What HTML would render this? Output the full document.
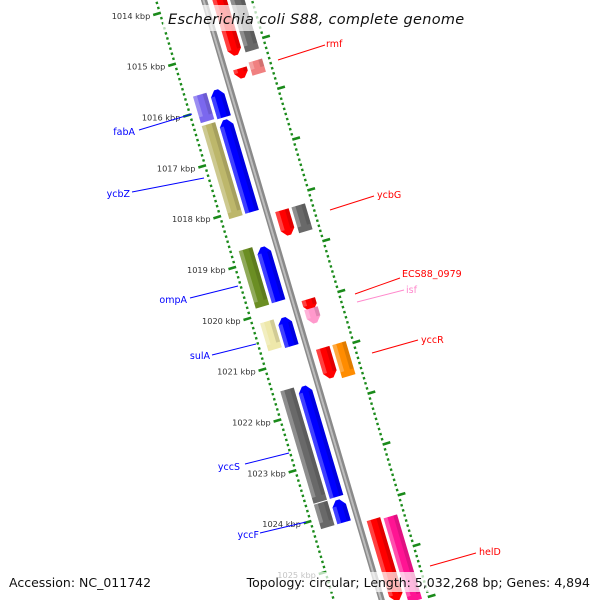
<!DOCTYPE html>
<html><head><meta charset="utf-8"><style>
html,body{margin:0;padding:0;background:#fff;overflow:hidden;width:600px;height:600px;}
svg{display:block;font-family:"DejaVu Sans","Liberation Sans",sans-serif;overflow:hidden;}
</style></head><body>
<svg id="chart" width="600" height="600" viewBox="0 0 600 600" xmlns="http://www.w3.org/2000/svg">
<defs><clipPath id="frame"><rect x="0" y="0" width="600" height="600"/></clipPath></defs>
<g clip-path="url(#frame)">
<g id="strip" transform="translate(204,0) rotate(-16.5)"></g>
<g id="labels"></g>
</g>
<rect x="163" y="5" width="274" height="26" fill="#fff" opacity="0.7"/>
<text x="168" y="24" font-size="14.5" font-style="italic" fill="#111" letter-spacing="0.3">Escherichia coli S88, complete genome</text>
<rect x="6" y="572" width="142" height="20" fill="#fff" opacity="0.7"/>
<text x="9" y="587" font-size="12.5" fill="#111">Accession: NC_011742</text>
<rect x="256" y="572" width="338" height="20" fill="#fff" opacity="0.7"/>
<text x="590" y="587" font-size="12.5" fill="#111" text-anchor="end">Topology: circular; Length: 5,032,268 bp; Genes: 4,894</text>
</svg>
<script>
// ---- data ----
const featStart = [1013.0, 1015.43, 1013.0, 1015.37, 1015.69, 1016.28, 1018.78, 1020.17, 1021.52, 1023.76, 1015.69, 1016.27, 1018.73, 1020.15, 1021.49, 1023.72, 1018.22, 1018.22, 1019.97, 1020.15, 1020.93, 1020.93, 1024.3, 1024.34];
const featEnd   = [1015.17, 1015.62, 1015.17, 1015.63, 1016.23, 1018.09, 1019.85, 1020.73, 1023.7, 1024.2, 1016.21, 1018.1, 1019.86, 1020.7, 1023.7, 1024.2, 1018.71, 1018.73, 1020.2, 1020.44, 1021.52, 1021.58, 1025.9, 1026.0];
const featSlot  = ["ri","ri","ro","ro","li","li","li","li","li","li","lo","lo","lo","lo","lo","lo","ri","ro","ri","ri","ri","ro","ri","ro"];
const featColor = ["#ff0000","#ff0000","#696969","#f08080","#0000ff","#0000ff","#0000ff","#0000ff","#0000ff","#0000ff","#7b68ee","#bdb76b","#6b8e23","#eee8aa","#696969","#696969","#ff0000","#696969","#ff0000","#ff99cc","#ff0000","#ff8c00","#ff0000","#ff1493"];
const featArrow = [1,1,0,0,-1,-1,-1,-1,-1,-1,0,0,0,0,0,0,1,0,1,1,1,0,1,0];
const tickKbp = [1013,1014,1015,1016,1017,1018,1019,1020,1021,1022,1023,1024,1025,1026];
const tickLabels = ["1013 kbp","1014 kbp","1015 kbp","1016 kbp","1017 kbp","1018 kbp","1019 kbp","1020 kbp","1021 kbp","1022 kbp","1023 kbp","1024 kbp","1025 kbp","1026 kbp"];
const geneNames = ["rmf","fabA","ycbZ","ycbG","ECS88_0979","isf","ompA","yccR","sulA","yccS","yccF","helD"];
const geneColor = ["#ff0000","#0000ff","#0000ff","#ff0000","#ff0000","#ff88cc","#0000ff","#ff0000","#0000ff","#0000ff","#0000ff","#ff0000"];
// ---- layout ----
const NS="http://www.w3.org/2000/svg";
const strip=document.getElementById('strip');
const labels=document.getElementById('labels');
const K0=1014, PX=53.0, ANG=16.5*Math.PI/180, OX=204;
function yAt(k){return (k-K0)*PX;}
const slotX={li:-14,lo:-31,ri:15,ro:32};
const HW=7;
function mk(tag,attrs,parent){const e=document.createElementNS(NS,tag);for(const a in attrs)e.setAttribute(a,attrs[a]);parent.appendChild(e);return e;}
// backbone
let bb=mk('rect',{x:-3,y:-60,width:6,height:700,fill:'#8a8a8a'},strip);


let bb2=mk('rect',{x:-1.5,y:-60,width:2,height:700,fill:'#bdbdbd'},strip);


// ruler dots
for(let i=0;i<=130;i++){
  const k=1013+i*0.1;
  if(Math.abs(k-Math.round(k))<0.001) continue;
  const y=yAt(k);
  for(const sx of [-46,46]){
    const d=mk('rect',{x:sx-1.2,y:y-1.2,width:2.4,height:2.4,fill:'#1a8a1a'},strip);
    
    
  }
}
tickKbp.forEach((k,i)=>{
  const y=yAt(k);
  const l=mk('rect',{x:-53,y:y-1.3,width:8,height:2.6,fill:'#1a8a1a'},strip);
  
  
  const r=mk('rect',{x:45,y:y-1.3,width:8,height:2.6,fill:'#1a8a1a'},strip);
  
  
  const xl=-56;
  const sx=OX+xl*Math.cos(ANG)+y*Math.sin(ANG), sy=-xl*Math.sin(ANG)+y*Math.cos(ANG);
  const t=mk('text',{x:sx,y:sy+3,'font-size':8.2,fill:'#333','text-anchor':'end'},labels);
  
  
  t.textContent=tickLabels[i];
});
// features
featStart.forEach((s,i)=>{
  const c=slotX[featSlot[i]], y0=yAt(s), y1=yAt(featEnd[i]);
  const x0=c-HW, x1=c+HW, tip=Math.min(6,(y1-y0)*0.6);
  let pts;
  if(featArrow[i]<0) pts=[[x0,y1],[x0,y0+tip],[c-2,y0],[c+2,y0],[x1,y0+tip],[x1,y1]];
  else if(featArrow[i]>0) pts=[[x0,y0],[x1,y0],[x1,y1-tip],[c+2,y1],[c-2,y1],[x0,y1-tip]];
  else pts=[[x0,y0],[x1,y0],[x1,y1],[x0,y1]];
  const p=mk('polygon',{points:pts.map(q=>q.join(',')).join(' '),fill:featColor[i]},strip);
  
  
  const h=mk('rect',{x:x0,y:y0+(featArrow[i]<0?tip:0),width:4,height:Math.max(0,y1-y0-tip),fill:'#fff',opacity:0.25},strip);
  
  
  const sh=mk('rect',{x:x1-4,y:y0+(featArrow[i]<0?tip:0),width:4,height:Math.max(0,y1-y0-tip),fill:'#000',opacity:0.12},strip);
  
  
});
// gene labels (screen coords)
const labPos=[[326,47,278,60,325,45,'start'],[135,135,139,130,192,114,'end'],[130,197,132,192,204,178,'end'],[377,198,330,210,374,196,'start'],[402,277,355,294,400,278,'start'],[406,293,357,302,404,290,'start'],[187,303,190,298,238,286,'end'],[421,343,372,353,418,340,'start'],[210,359,212,355,256,344,'end'],[240,470,245,464,289,453,'end'],[259,538,260,533,306,522,'end'],[479,555,430,566,476,553,'start']];
geneNames.forEach((n,i)=>{
  const q=labPos[i];
  const ln=mk('line',{x1:q[2],y1:q[3],x2:q[4],y2:q[5],stroke:geneColor[i],'stroke-width':1},labels);
  
  
  const t=mk('text',{x:q[0],y:q[1],'font-size':9.5,fill:geneColor[i],'text-anchor':q[6]},labels);
  
  
  t.textContent=n;
});
</script>
</body></html>
